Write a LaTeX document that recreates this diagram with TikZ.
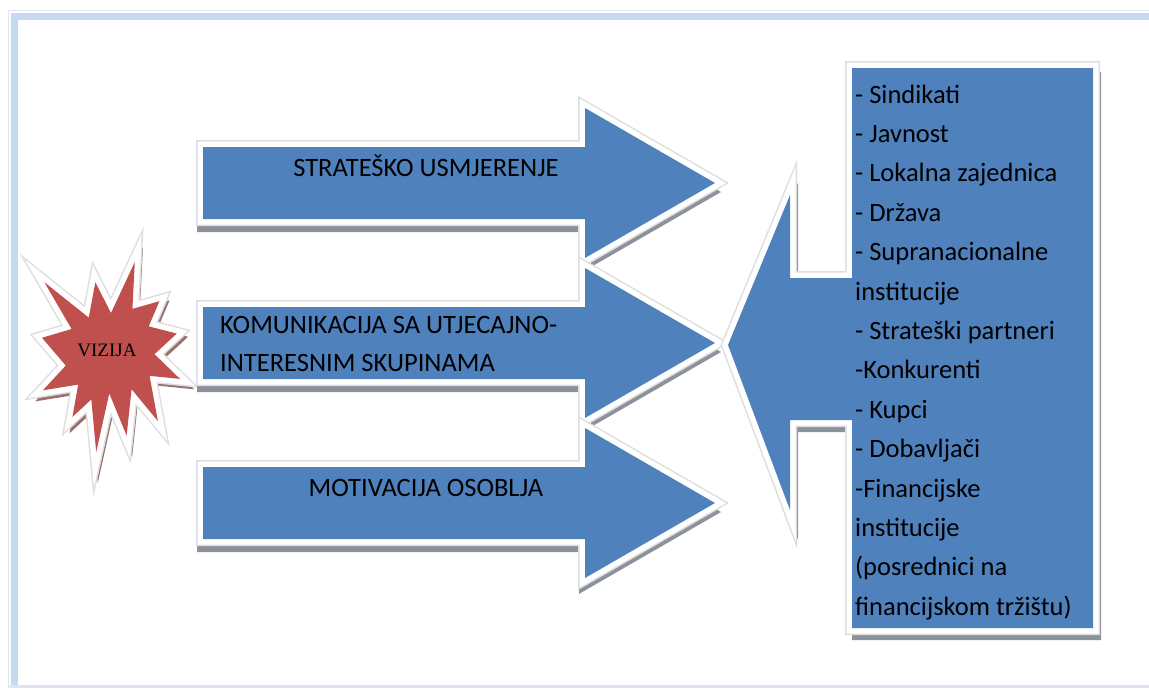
\documentclass[tikz,border=0pt]{standalone}
\usepackage{fontspec}
\setmainfont{Carlito}
\newfontfamily\starfont{Liberation Serif}
\definecolor{obl}{RGB}{79,129,189}
\definecolor{ored}{RGB}{192,80,77}
\definecolor{frameband}{RGB}{198,217,241}
\definecolor{frameline}{RGB}{220,230,242}
\definecolor{shd}{RGB}{140,146,156}
\definecolor{shdred}{RGB}{155,112,112}
\definecolor{glowedge}{RGB}{222,222,222}
\tikzset{
  glowouter/.style={draw=glowedge,line width=14pt,line join=miter},
  glowinner/.style={draw=white,line width=11pt,line join=miter},
  shadowpart/.style={fill=#1,draw=#1,line width=8pt,line join=miter},
  arrowpath/.style={insert path={(203,-36) -- (585,-36) -- (585,-75) -- (715,0) -- (585,75) -- (585,36) -- (203,36) -- cycle}},
  calloutpath/.style={insert path={(852,68) -- (1093,68) -- (1093,628) -- (852,628) -- (852,420) -- (790,420) -- (790,510) -- (728,345) -- (790,195) -- (790,278) -- (852,278) -- cycle}},
  starpath/.style={insert path={(108,58) -- (145.22,0) -- (141.55,53.25) -- (183.80,44.57) -- (167.02,73.15) -- (210.97,81.37) -- (176.07,104.75) -- (216,132.90) -- (168.37,129.42) -- (181.45,180.95) -- (140.20,144.57) -- (132.47,197.37) -- (105.32,149.35) -- (84.85,216) -- (77.15,156.27) -- (47.62,176.17) -- (56.67,139.37) -- (1.35,145.87) -- (37.22,117.75) -- (0,86.15) -- (46.27,76.17) -- (3.70,22.95) -- (73.12,63.20) -- (83.52,22.95) -- cycle}},
  lbl/.style={inner sep=0pt,font=\fontsize{26.5}{30}\selectfont,text=black},
  item/.style={inner sep=0pt,anchor=base west,font=\fontsize{26.5}{30}\selectfont,text=black}
}
\newcommand\fancyshape[4]{%
  \path[shift={#2},shadowpart=#4,#1];
  \path[glowouter,#1];
  \path[glowinner,#1];
  \path[fill=#3,#1];
}
\begin{document}
\begin{tikzpicture}[x=1pt,y=-1pt]
\useasboundingbox (0,0) rectangle (1149,688);
% frame
\draw[frameline,line width=1.5pt] (8.5,700) -- (8.5,10.5) -- (1160,10.5);
\draw[frameband,line width=7pt] (14.5,700) -- (14.5,16.5) -- (1160,16.5);
\draw[frameline,line width=3pt] (8.5,686.5) -- (1160,686.5);
% star
\begin{scope}[shift={(42,262)},x=0.63889pt,y=-0.87963pt]
  \fancyshape{starpath}{(5,6)}{ored}{shdred}
\end{scope}
\node[inner sep=0pt,font=\starfont\fontsize{19}{22}\selectfont] (viz) at (107,350) {VIZIJA};
% arrows
\begin{scope}[shift={(0,183)}]
  \fancyshape{arrowpath}{(-2,9)}{obl}{shd}
\end{scope}
\begin{scope}[shift={(0,343)}]
  \fancyshape{arrowpath}{(-2,9)}{obl}{shd}
\end{scope}
\begin{scope}[shift={(0,503)}]
  \fancyshape{arrowpath}{(-2,9)}{obl}{shd}
\end{scope}
\node[lbl,anchor=base] (t1) at (426,176) {STRATEŠKO USMJERENJE};
\node[lbl,anchor=base west] (t2a) at (220,333) {KOMUNIKACIJA SA UTJECAJNO-};
\node[lbl,anchor=base west] (t2b) at (220,371) {INTERESNIM SKUPINAMA};
\node[lbl,anchor=base] (t3) at (426,496) {MOTIVACIJA OSOBLJA};
% callout
\fancyshape{calloutpath}{(4,8)}{obl}{shd}
\node[item] (l1) at (855,103) {- Sindikati};
\node[item] (l2) at (855,142.4) {- Javnost};
\node[item] (l3) at (855,181.8) {- Lokalna zajednica};
\node[item] (l4) at (855,221.2) {- Država};
\node[item] (l5) at (855,260.6) {- Supranacionalne};
\node[item] (l6) at (855,300) {institucije};
\node[item] (l7) at (855,339.4) {- Strateški partneri};
\node[item] (l8) at (855,378.8) {-Konkurenti};
\node[item] (l9) at (855,418.2) {- Kupci};
\node[item] (l10) at (855,457.6) {- Dobavljači};
\node[item] (l11) at (855,497) {-Financijske};
\node[item] (l12) at (855,536.4) {institucije};
\node[item] (l13) at (855,575.8) {(posrednici na};
\node[item] (l14) at (855,615.2) {financijskom tržištu)};
\end{tikzpicture}
\end{document}
